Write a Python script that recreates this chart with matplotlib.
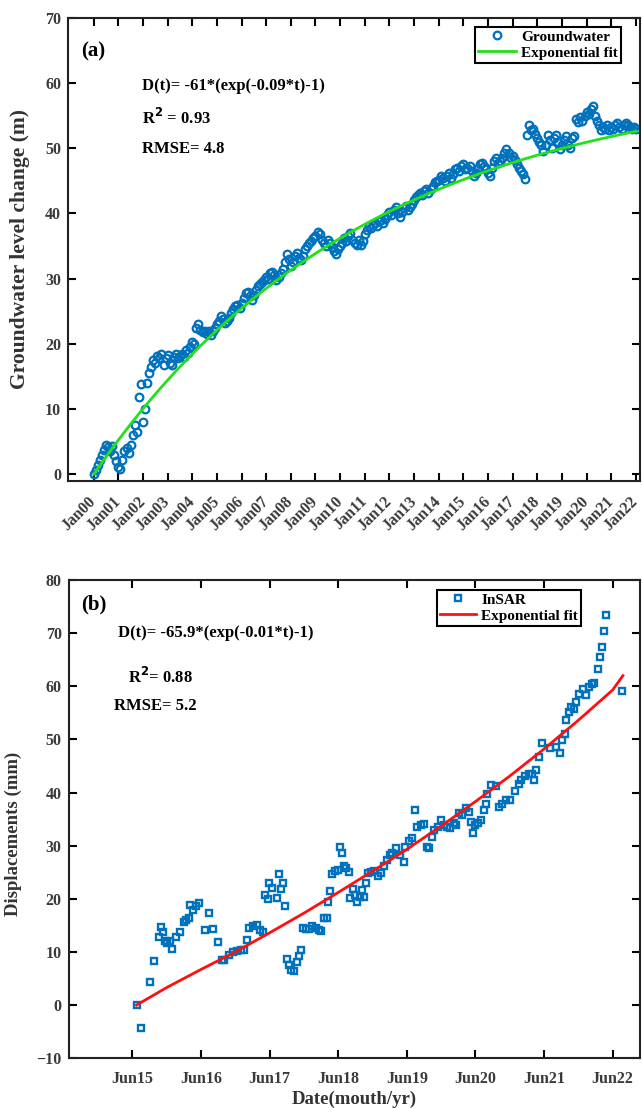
import numpy as np
import matplotlib
matplotlib.use("Agg")
import matplotlib.pyplot as plt

plt.rcParams['font.family'] = ['Liberation Serif', 'DejaVu Serif']
plt.rcParams['font.weight'] = 'bold'

# groundwater level change (m), monthly from Jan 2000
gw_2000 = [0.0, 0.6, 1.5, 2.2, 3.0, 3.8, 4.5, 4.2, 3.6, 4.4, 3.0, 2.0]
gw_2001 = [1.2, 0.8, 2.2, 3.6, 4.0, 3.2, 4.5, 6.0, 7.5, 6.5, 11.8, 13.9]
gw_2002 = [8.0, 10.0, 14.0, 15.5, 16.5, 17.5, 17.0, 18.2, 17.8, 18.5, 16.8, 17.8]
gw_2003 = [18.3, 17.0, 16.8, 18.0, 18.5, 17.8, 18.2, 18.5, 18.0, 19.0, 18.6, 19.5]
gw_2004 = [20.3, 20.0, 22.5, 23.0, 22.2, 21.8, 22.0, 21.5, 22.0, 21.3, 22.0, 22.5]
gw_2005 = [23.0, 23.5, 24.2, 23.8, 23.2, 23.5, 24.0, 24.8, 25.3, 25.8, 26.0, 25.5]
gw_2006 = [26.2, 27.0, 27.8, 28.0, 27.3, 26.8, 27.5, 28.2, 28.8, 29.2, 29.5, 29.8]
gw_2007 = [30.2, 30.0, 30.8, 31.0, 30.5, 29.8, 30.3, 30.8, 31.5, 32.5, 33.8, 33.0]
gw_2008 = [32.0, 32.5, 33.5, 34.0, 33.2, 32.8, 33.5, 34.5, 35.0, 35.5, 35.8, 36.2]
gw_2009 = [36.5, 37.2, 36.8, 36.0, 35.5, 35.0, 36.0, 35.5, 34.8, 34.2, 33.8, 34.5]
gw_2010 = [35.0, 35.5, 36.2, 35.8, 36.5, 37.0, 36.0, 35.5, 35.2, 36.0, 35.2, 35.8]
gw_2011 = [36.8, 37.5, 38.0, 37.8, 38.2, 38.5, 38.0, 38.8, 39.0, 38.5, 39.2, 39.8]
gw_2012 = [40.2, 39.8, 40.5, 41.0, 40.0, 39.5, 40.2, 40.8, 41.2, 40.5, 41.0, 41.5]
gw_2013 = [42.0, 42.5, 42.8, 43.2, 42.8, 43.5, 43.8, 43.2, 43.8, 44.2, 44.8, 45.0]
gw_2014 = [45.2, 45.8, 45.5, 45.0, 45.8, 46.2, 45.5, 46.0, 46.8, 47.0, 46.5, 47.2]
gw_2015 = [47.5, 46.8, 47.0, 47.3, 46.5, 45.8, 46.2, 47.0, 47.5, 47.8, 47.2, 46.8]
gw_2016 = [46.2, 45.8, 47.0, 48.0, 48.5, 47.8, 48.0, 48.5, 49.3, 49.8, 49.2, 48.5]
gw_2017 = [48.8, 48.2, 47.5, 47.0, 46.5, 46.0, 45.3, 52.0, 53.5, 52.8, 53.0, 52.2]
gw_2018 = [51.5, 51.0, 50.5, 49.5, 50.5, 52.0, 51.2, 50.0, 51.5, 52.0, 51.0, 49.8]
gw_2019 = [50.5, 51.2, 51.8, 50.5, 50.0, 51.5, 51.8, 54.5, 54.0, 54.8, 54.2, 55.0]
gw_2020 = [55.5, 55.2, 56.0, 56.5, 55.0, 54.2, 53.5, 52.8, 53.2, 53.0, 53.5, 52.8]
gw_2021 = [53.2, 53.0, 53.5, 53.8, 53.2, 53.0, 53.5, 53.8, 53.5, 53.2, 53.0, 53.2]
gw_2022 = [53.0]
gw_values = (gw_2000 + gw_2001 + gw_2002 + gw_2003 + gw_2004 + gw_2005 + gw_2006
             + gw_2007 + gw_2008 + gw_2009 + gw_2010 + gw_2011 + gw_2012 + gw_2013
             + gw_2014 + gw_2015 + gw_2016 + gw_2017 + gw_2018 + gw_2019 + gw_2020
             + gw_2021 + gw_2022)
gw_fit_A = -61
gw_fit_k = -0.09
top_ticklabels = ['Jan%02d' % y for y in range(0, 23)]

# InSAR displacement (mm), time in years since Jun 2015
insar_t = [0.06, 0.125, 0.26, 0.32, 0.39, 0.42, 0.45, 0.47, 0.51, 0.54, 0.58, 0.63,
           0.69, 0.75, 0.78, 0.82, 0.84, 0.88, 0.93, 0.97, 1.05, 1.12, 1.17, 1.24,
           1.30, 1.34, 1.40, 1.46, 1.52, 1.58, 1.63, 1.67, 1.70, 1.76, 1.81, 1.86,
           1.91, 1.93, 1.97, 1.99, 2.04, 2.10, 2.13, 2.16, 2.19, 2.22, 2.25, 2.28,
           2.31, 2.35, 2.40, 2.43, 2.46, 2.48, 2.53, 2.57, 2.62, 2.67, 2.72, 2.75,
           2.79, 2.83, 2.85, 2.88, 2.91, 2.95, 3.00, 3.02, 3.05, 3.08, 3.11, 3.15,
           3.17, 3.21, 3.24, 3.27, 3.32, 3.35, 3.38, 3.41, 3.43, 3.48, 3.52, 3.58,
           3.63, 3.67, 3.71, 3.75, 3.79, 3.84, 3.90, 3.96, 3.98, 4.03, 4.08, 4.12,
           4.15, 4.20, 4.25, 4.30, 4.33, 4.36, 4.40, 4.45, 4.50, 4.54, 4.58, 4.63,
           4.68, 4.72, 4.76, 4.81, 4.86, 4.90, 4.93, 4.96, 4.99, 5.04, 5.08, 5.12,
           5.16, 5.17, 5.22, 5.30, 5.34, 5.38, 5.44, 5.50, 5.57, 5.63, 5.67, 5.72,
           5.78, 5.82, 5.86, 5.88, 5.93, 5.97, 6.09, 6.18, 6.23, 6.26, 6.30, 6.32,
           6.36, 6.39, 6.43, 6.47, 6.51, 6.57, 6.61, 6.66, 6.70, 6.73, 6.78, 6.82,
           6.84, 6.88, 6.91, 7.14]
insar_v = [0.0, -4.3, 4.3, 8.3, 12.8, 14.7, 13.7, 12.0, 11.7, 12.0, 10.6, 12.8,
           13.7, 15.6, 16.0, 16.3, 18.8, 17.8, 18.6, 19.2, 14.2, 17.4, 14.4, 11.8,
           8.4, 8.4, 9.5, 9.9, 10.1, 10.3, 10.4, 12.2, 14.5, 14.8, 15.1, 14.2,
           13.7, 20.8, 19.9, 22.9, 22.0, 20.1, 24.7, 21.8, 22.9, 18.7, 8.6, 7.6,
           6.6, 6.4, 8.1, 9.2, 10.3, 14.5, 14.3, 14.4, 14.9, 14.5, 14.1, 13.9,
           16.4, 16.3, 19.4, 21.4, 24.7, 25.3, 25.4, 29.8, 28.6, 26.1, 25.8, 25.1,
           20.1, 21.8, 20.8, 19.3, 20.3, 21.6, 20.3, 22.9, 24.8, 25.1, 25.3, 24.3,
           24.8, 26.1, 27.3, 28.3, 28.7, 29.5, 28.3, 27.0, 29.8, 30.9, 31.4, 36.7,
           33.6, 33.9, 34.1, 29.8, 29.5, 31.7, 32.9, 33.6, 34.8, 33.9, 33.6, 33.3,
           34.2, 33.9, 36.1, 35.8, 37.0, 36.4, 34.5, 32.3, 33.9, 34.2, 34.9, 36.7,
           37.8, 39.7, 41.4, 41.3, 37.2, 37.9, 38.5, 38.6, 40.3, 41.6, 42.4, 43.2,
           43.5, 43.5, 42.4, 44.3, 46.7, 49.4, 48.4, 48.6, 47.5, 49.8, 51.1, 53.6,
           55.2, 56.1, 55.8, 57.0, 58.5, 59.4, 58.3, 59.9, 60.5, 60.6, 63.3, 65.5,
           67.4, 70.4, 73.4, 59.2]
insar_fit_t = [0.06, 0.5, 1.0, 1.5, 2.0, 2.5, 3.0, 3.5, 4.0, 4.5, 5.0, 5.5, 6.0, 6.5, 7.0, 7.15]
insar_fit_v = [0.0, 3.3, 6.7, 10.0, 13.6, 17.3, 21.2, 25.2, 29.3, 33.7, 38.3, 43.1, 48.2, 53.6, 59.3, 62.0]
bottom_ticklabels = ['Jun%d' % y for y in range(15, 23)]

blue = '#0072BD'
tick_color = '#3a3a3a'
label_color = '#333333'

fig = plt.figure(figsize=(6.42, 11.08), dpi=100)
ax1 = fig.add_axes([0.106, 0.566, 0.891, 0.418])
ax2 = fig.add_axes([0.107, 0.045, 0.890, 0.4315])

# ---- panel (a)
gw_t = np.arange(len(gw_values)) / 12.0
ax1.plot(gw_t, gw_values, linestyle='none', marker='o', ms=5.5, mfc='none',
         mec=blue, mew=1.6, label='Groundwater')
tt = np.linspace(0, 22, 200)
ax1.plot(tt, gw_fit_A * (np.exp(gw_fit_k * tt) - 1), color='#22e01a', lw=2,
         label='Exponential fit')
ax1.set_xlim(-1.04, 22.17)
ax1.set_ylim(-1, 70)
ax1.set_xticks(range(0, 23))
ax1.set_xticklabels(top_ticklabels, rotation=45, ha='right', va='center',
                    rotation_mode='anchor')
ax1.set_yticks(range(0, 71, 10))
ax1.set_ylabel('Groundwater level change (m)', fontsize=15.5, fontweight='bold',
               color=label_color)
ax1.yaxis.set_label_coords(-0.066, 0.5)
ax1.text(0.022, 0.927, '(a)', transform=ax1.transAxes, fontsize=15,
         fontweight='bold', va='center')
ax1.text(0.129, 0.853, 'D(t)= -61*(exp(-0.09*t)-1)', transform=ax1.transAxes,
         fontsize=12, fontweight='bold', va='center')
ax1.text(0.129, 0.784, 'R$^\\mathbf{2}$ = 0.93', transform=ax1.transAxes,
         fontsize=12, fontweight='bold', va='center')
ax1.text(0.129, 0.717, 'RMSE= 4.8', transform=ax1.transAxes,
         fontsize=12, fontweight='bold', va='center')
leg1 = ax1.legend(loc='upper right', bbox_to_anchor=(0.967, 0.9756),
                  bbox_transform=fig.transFigure, fontsize=11, frameon=True,
                  fancybox=False, borderpad=0.2, handlelength=2.5,
                  handletextpad=0.3, labelspacing=0.15, borderaxespad=0,
                  framealpha=1)
leg1.get_frame().set_edgecolor('black')
leg1.get_frame().set_linewidth(1.5)

# ---- panel (b)
ax2.plot(insar_t, insar_v, linestyle='none', marker='s', ms=5, mfc='none',
         mec=blue, mew=1.7, label='InSAR')
ax2.plot(insar_fit_t, insar_fit_v, color='#ff1010', lw=2, label='Exponential fit')
ax2.set_xlim(-0.93, 7.4)
ax2.set_ylim(-10, 80)
ax2.set_xticks(range(0, 8))
ax2.set_xticklabels(bottom_ticklabels)
ax2.set_yticks(range(-10, 81, 10))
ax2.set_ylabel('Displacements (mm)', fontsize=13.5, fontweight='bold',
               color=label_color)
ax2.yaxis.set_label_coords(-0.082, 0.469)
ax2.set_xlabel('Date(mouth/yr)', fontsize=13.5, fontweight='bold', color=label_color,
               labelpad=3)
ax2.text(0.022, 0.948, '(b)', transform=ax2.transAxes, fontsize=15,
         fontweight='bold', va='center')
ax2.text(0.086, 0.889, 'D(t)= -65.9*(exp(-0.01*t)-1)', transform=ax2.transAxes,
         fontsize=12, fontweight='bold', va='center')
ax2.text(0.103, 0.797, 'R$^\\mathbf{2}$= 0.88', transform=ax2.transAxes,
         fontsize=12, fontweight='bold', va='center')
ax2.text(0.080, 0.736, 'RMSE= 5.2', transform=ax2.transAxes,
         fontsize=12, fontweight='bold', va='center')
leg2 = ax2.legend(loc='upper right', bbox_to_anchor=(0.905, 0.4675),
                  bbox_transform=fig.transFigure, fontsize=11, frameon=True,
                  fancybox=False, borderpad=0.2, handlelength=2.4,
                  handletextpad=0.3, labelspacing=0.15, borderaxespad=0,
                  framealpha=1)
leg2.get_frame().set_edgecolor('black')
leg2.get_frame().set_linewidth(1.5)

for ax in (ax1, ax2):
    ax.tick_params(direction='in', length=6, width=1.5, top=True, right=True,
                   labelsize=11.5, labelcolor=tick_color, pad=5)
    for s in ax.spines.values():
        s.set_linewidth(1.5)
        s.set_color('#222222')
    for lab in ax.get_xticklabels() + ax.get_yticklabels():
        lab.set_fontweight('bold')
ax1.tick_params(axis='x', pad=13)
ax2.tick_params(axis='x', pad=9)

fig.savefig('out.png', dpi=100)
